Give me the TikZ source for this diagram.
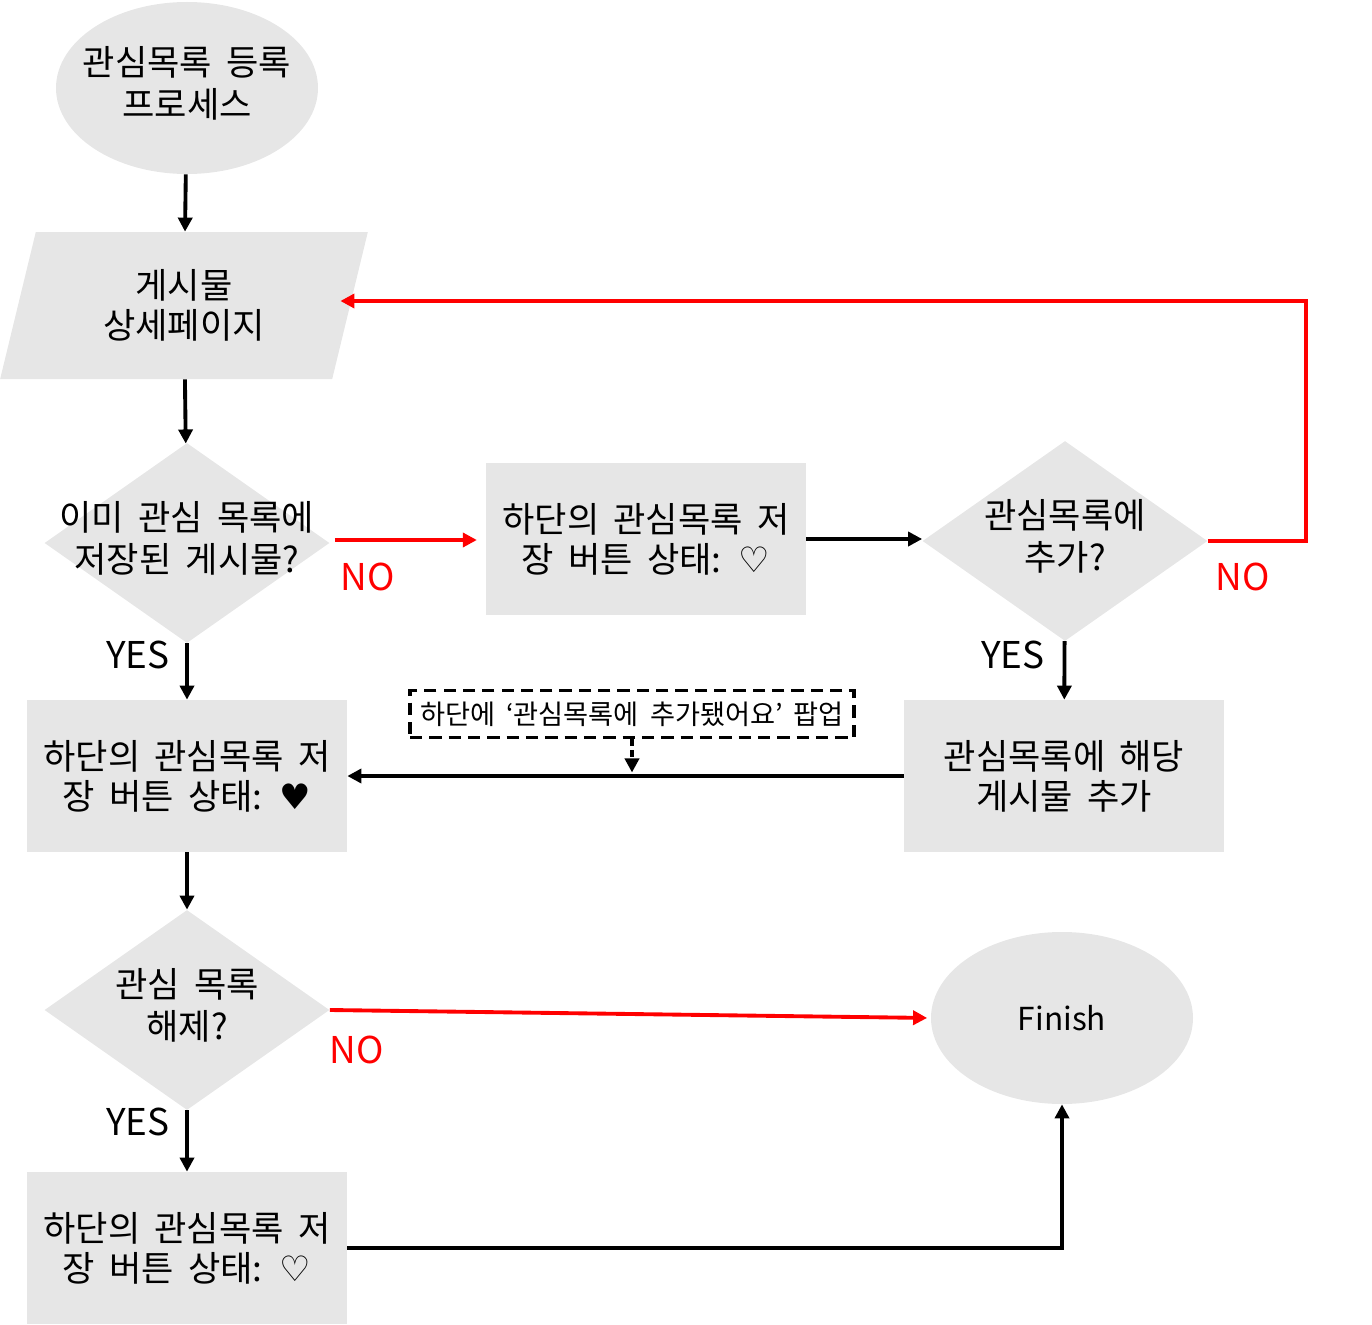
\documentclass[tikz,border=0pt]{standalone}
\usepackage{fontspec}
\setmainfont{Noto Sans CJK KR}[WordSpace=1.8]
\newfontfamily\symfont{DejaVu Sans}
\usepackage{xcolor}
\usepackage{tikz}
\usetikzlibrary{
  positioning,
  arrows.meta,
  shapes.geometric,
  calc
}
\definecolor{BoxGray}{RGB}{230,230,230}
\definecolor{NoRed}{RGB}{255,0,0}
\newcommand{\hearto}{{\symfont\char"2661}}
\newcommand{\heartf}{{\symfont\char"2665}}

\begin{document}
\begin{tikzpicture}[
  font=\fontsize{20}{22.8}\selectfont,
  >={Triangle[length=8pt,width=8pt]},
  term/.style={
    ellipse,
    fill=BoxGray,
    draw=none,
    minimum width=5.24cm,
    minimum height=3.44cm
  },
  io/.style={
    trapezium,
    trapezium left angle=76,
    trapezium right angle=104,
    trapezium stretches=true,
    fill=BoxGray,
    draw=none,
    align=center,
    minimum width=7.36cm,
    minimum height=2.94cm
  },
  dec/.style={
    diamond,
    fill=BoxGray,
    draw=none,
    inner sep=0pt,
    minimum width=5.7cm,
    minimum height=4cm
  },
  proc/.style={
    rectangle,
    fill=BoxGray,
    draw=none,
    align=center,
    minimum width=6.4cm,
    minimum height=3.04cm
  },
  pop/.style={
    rectangle,
    draw=black,
    line width=2pt,
    dash pattern=on 7pt off 4pt,
    fill=white,
    minimum width=8.88cm,
    minimum height=0.94cm,
    font=\fontsize{15.5}{18}\selectfont
  },
  ans/.style={font=\fontsize{21}{25}\selectfont, inner sep=0pt},
  arr/.style={->, line width=2.2pt, black},
  noarr/.style={->, line width=2.2pt, NoRed},
  wire/.style={line width=2.2pt, black},
  nowire/.style={line width=2.2pt, NoRed},
]
  \useasboundingbox (0,0) rectangle (27.44,-26.5);

  % ========== 왼쪽 열 ==========
  \node[term, label=center:{\begin{tabular}{c}관심목록 등록\\프로세스\end{tabular}}]
    (start) at (3.74,-1.76) {};
  \node[io] (page) at (3.68,-6.11) {게시물\\상세페이지};
  \node[dec, label=center:{\begin{tabular}{c}이미 관심 목록에\\저장된 게시물?\end{tabular}}]
    (saved) at (3.74,-10.86) {};
  \node[proc] (heartOn) at (3.74,-15.52)
    {하단의 관심목록 저\\장 버튼 상태: \heartf};
  \node[dec, label=center:{\begin{tabular}{c}관심 목록\\해제?\end{tabular}}]
    (unsave) at (3.74,-20.2) {};
  \node[proc] (heartOff) at (3.74,-24.96)
    {하단의 관심목록 저\\장 버튼 상태: \hearto};

  % ========== 가운데 / 오른쪽 ==========
  \node[proc] (heartIdle) at (12.92,-10.78)
    {하단의 관심목록 저\\장 버튼 상태: \hearto};
  \node[dec, label=center:{\begin{tabular}{c}관심목록에\\추가?\end{tabular}}]
    (addQ) at (21.3,-10.82) {};
  \node[proc] (addItem) at (21.28,-15.52)
    {관심목록에 해당\\게시물 추가};
  \node[pop] (popup) at (12.64,-14.28)
    {하단에 ‘관심목록에 추가됐어요’ 팝업};
  \node[term, label={[font=\fontsize{18}{22}\selectfont]center:Finish}]
    (finish) at (21.24,-20.36) {};

  % ========== YES / NO ==========
  \node[ans] (yes1) at (2.76,-13.1) {YES};
  \node[ans] (yes2) at (20.26,-13.1) {YES};
  \node[ans] (yes3) at (2.76,-22.44) {YES};
  \node[ans, text=NoRed] (no1) at (7.36,-11.54) {NO};
  \node[ans, text=NoRed] (no2) at (24.86,-11.54) {NO};
  \node[ans, text=NoRed] (no3) at (7.14,-21.0) {NO};

  % ========== 주 흐름 ==========
  \draw[arr] (start) -- (page);
  \draw[arr] (page) -- (saved);
  \draw[arr] (saved) -- (heartOn);
  \draw[arr] (heartOn) -- (unsave);
  \draw[arr] (unsave) -- (heartOff);
  \draw[arr] (heartIdle.east) -- (heartIdle.east-|addQ.west);
  \draw[arr] (addQ) -- (addItem);
  \draw[arr] (addItem) -- (heartOn);
  \coordinate (S1) at ($(saved.east)+(0.1,0.06)$);
  \draw[noarr, shorten >=5pt] (S1) -- (S1-|heartIdle.west);
  \draw[noarr, shorten >=2pt] (unsave.east) -- (finish.west);

  % 팝업 -> 연결선
  \coordinate (popHit) at (popup.south|-heartOn.east);
  \draw[->, line width=2pt, dash pattern=on 4pt off 2pt, shorten >=2pt] (popup.south) -- (popHit);

  % ========== 되돌아가는 선 ==========
  \coordinate (Rx) at (26.12,0);
  \coordinate (R1) at (addQ.east-|Rx);
  \coordinate (P1) at ($(page.east)+(-0.2,0.09)$);
  \coordinate (R2) at (P1-|Rx);
  \draw[noarr] (addQ.east) -- (R1) -- (R2) -- (P1);

  \coordinate (F1) at (heartOff.east-|finish.south);
  \draw[arr] (heartOff.east) -- (F1) -- (finish.south);

\end{tikzpicture}
\end{document}
